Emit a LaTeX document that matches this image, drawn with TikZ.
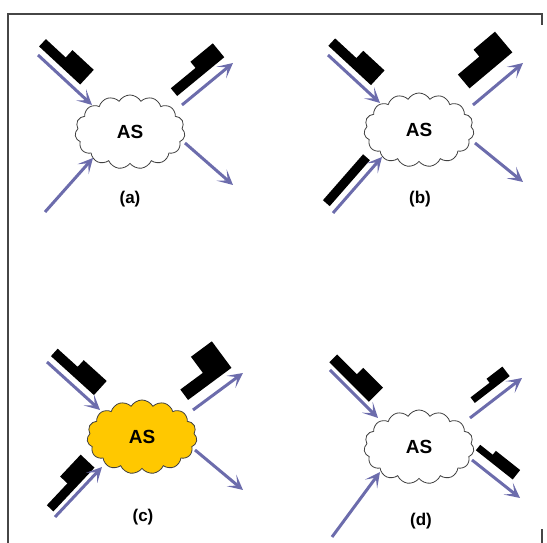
\documentclass[tikz,border=0pt]{standalone}
\usepackage{fontspec}
\setmainfont{Liberation Sans}
\usepackage{tikz}
\usetikzlibrary{shapes.symbols, arrows.meta}
\definecolor{flowblue}{RGB}{108,108,172}
\definecolor{asyellow}{RGB}{255,200,0}
\definecolor{framegray}{RGB}{70,70,70}

% packet lying along a flow: rear/offset/step/front/thin/thick
\tikzset{
    pics/packet/.style args={#1/#2/#3/#4/#5/#6}{code={
        \fill[black] (#1,#2) -- (#4,#2) -- (#4,#2+#6) -- (#3,#2+#6)
            -- (#3,#2+#5) -- (#1,#2+#5) -- cycle;
    }},
}

\begin{document}
\begin{tikzpicture}[
        x=1pt, y=1pt,
        as/.style={
            cloud, cloud puffs=15, cloud puff arc=120, cloud ignores aspect,
            draw=black!75, line width=0.8pt, fill=#1,
            minimum width=110pt, minimum height=74pt, inner sep=0pt,
            font=\bfseries\fontsize{19}{21}\selectfont,
        },
        as/.default=white,
        flow/.style={
            draw=flowblue, line width=3pt,
            -{Stealth[length=15pt, width=15pt, inset=8pt]},
        },
        tag/.style={font=\bfseries\fontsize{17}{19}\selectfont},
    ]
    \useasboundingbox (0,0) rectangle (547,543);
    \draw[framegray, line width=1.6pt] (542,518) -- (542,529) -- (8,529) -- (8,0);
    \draw[framegray, line width=1.6pt] (542,0) -- (542,14);

    % (a)
    \node[as] (a-as) at (130,411) {AS};
    \node[tag] (a-tag) at (130,344) {(a)};
    \coordinate (a-i1) at (38,488);  \coordinate (a-i1t) at (92,438);
    \coordinate (a-i2) at (45,331);  \coordinate (a-i2t) at (93,385);
    \coordinate (a-o1) at (182,438); \coordinate (a-o1t) at (233,480);
    \coordinate (a-o2) at (185,400); \coordinate (a-o2t) at (233,358);
    \path (a-i1) -- (a-i1t) pic[pos=0, sloped] {packet=-5/7/22/51/10/20};
    \path (a-o1) -- (a-o1t) pic[pos=0, sloped] {packet=2/10/34/63/10/18};
    \draw[flow] (a-i1) -- (a-i1t);
    \draw[flow] (a-i2) -- (a-i2t);
    \draw[flow] (a-o1) -- (a-o1t);
    \draw[flow] (a-o2) -- (a-o2t);

    % (b)
    \node[as] (b-as) at (419,413) {AS};
    \node[tag] (b-tag) at (420,344) {(b)};
    \coordinate (b-i1) at (328,488); \coordinate (b-i1t) at (380,440);
    \coordinate (b-i2) at (333,330); \coordinate (b-i2t) at (382,386);
    \coordinate (b-o1) at (473,438); \coordinate (b-o1t) at (523,480);
    \coordinate (b-o2) at (475,400); \coordinate (b-o2t) at (523,361);
    \path (b-i1) -- (b-i1t) pic[pos=0, sloped] {packet=-6/7/23/52/10/20};
    \path (b-i2) -- (b-i2t) pic[pos=0, sloped] {packet=3/7/64/64/9/9};
    \path (b-o1) -- (b-o1t) pic[pos=0, sloped] {packet=8/15/36/64/18/27};
    \draw[flow] (b-i1) -- (b-i1t);
    \draw[flow] (b-i2) -- (b-i2t);
    \draw[flow] (b-o1) -- (b-o1t);
    \draw[flow] (b-o2) -- (b-o2t);

    % (c)
    \node[as=asyellow] (c-as) at (142,106) {AS};
    \node[tag] (c-tag) at (143,26) {(c)};
    \coordinate (c-i1) at (47,181);  \coordinate (c-i1t) at (100,133);
    \coordinate (c-i2) at (55,26);   \coordinate (c-i2t) at (102,76);
    \coordinate (c-o1) at (193,133); \coordinate (c-o1t) at (243,170);
    \coordinate (c-o2) at (195,93);  \coordinate (c-o2t) at (243,53);
    \path (c-i1) -- (c-i1t) pic[pos=0, sloped] {packet=-1/7/26/57/10/19};
    \path (c-i2) -- (c-i2t) pic[pos=0, sloped] {packet=3/5/33/63/9/19};
    \path (c-o1) -- (c-o1t) pic[pos=0, sloped] {packet=2/11/30/56/13/33};
    \draw[flow] (c-i1) -- (c-i1t);
    \draw[flow] (c-i2) -- (c-i2t);
    \draw[flow] (c-o1) -- (c-o1t);
    \draw[flow] (c-o2) -- (c-o2t);

    % (d)
    \node[as] (d-as) at (419,96) {AS};
    \node[tag] (d-tag) at (421,22) {(d)};
    \coordinate (d-i1) at (330,173); \coordinate (d-i1t) at (378,125);
    \coordinate (d-i2) at (332,6);   \coordinate (d-i2t) at (380,71);
    \coordinate (d-o1) at (470,125); \coordinate (d-o1t) at (522,165);
    \coordinate (d-o2) at (472,83);  \coordinate (d-o2t) at (520,45);
    \path (d-i1) -- (d-i1t) pic[pos=0, sloped] {packet=-6/5/22/50/11/20};
    \path (d-o1) -- (d-o1t) pic[pos=0, sloped] {packet=13/9/37/57/7/12};
    \path (d-o2) -- (d-o2t) pic[pos=0, sloped] {packet=-3/10/13/44/7/12};
    \draw[flow] (d-i1) -- (d-i1t);
    \draw[flow] (d-i2) -- (d-i2t);
    \draw[flow] (d-o1) -- (d-o1t);
    \draw[flow] (d-o2) -- (d-o2t);
\end{tikzpicture}
\end{document}
